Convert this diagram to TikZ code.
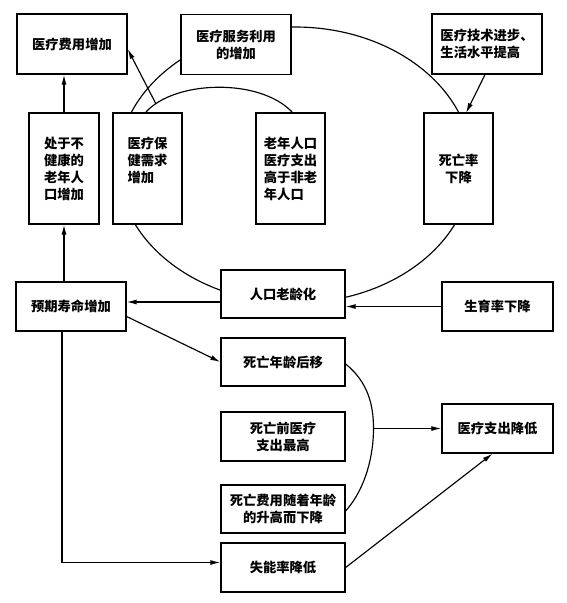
\documentclass[tikz,border=0pt]{standalone}
\usepackage{fontspec}
\newfontfamily\cjk{Noto Sans CJK SC}
\usetikzlibrary{arrows.meta,calc}
\tikzset{
  box/.style={draw, line width=1.3pt, fill=white, inner sep=0pt, align=center,
    font=\cjk\bfseries\fontsize{13.3}{17}\selectfont},
  wbox/.style={box, minimum width=110pt, minimum height=60pt},
  tbox/.style={box, minimum width=69pt, minimum height=111pt},
  mbox/.style={box, minimum width=124pt, minimum height=48pt},
  sbox/.style={box, minimum width=110pt, minimum height=49pt},
  conn/.style={line width=1.15pt},
  arr/.style={conn, -{Latex[length=10pt,width=5pt]}}
}
\begin{document}
\begin{tikzpicture}[x=1pt,y=-1pt]
\useasboundingbox (0,0) rectangle (566,603);
% outer ellipse
\draw[conn] (295,165) ellipse [x radius=177pt, y radius=138pt];
% inner arc
\draw[conn] (146,112) .. controls (175,80) and (260,78) .. (292,112);
% nodes
\node[wbox] (fee) at (72,44) {医疗费用增加};
\node[wbox] (serv) at (236,44.5) {医疗服务利用\\的增加};
\node[wbox, align=left] (tech) at (487,44) {医疗技术进步、\\生活水平提高};
\node[tbox, minimum width=70pt] (unh) at (64,168.5) {处于不\\健康的\\老年人\\口增加};
\node[tbox, align=left] (need) at (147.5,168.5) {医疗保\\健需求\\增加\\\mbox{}};
\node[tbox, align=left] (old) at (290.5,168.5) {老年人口\\医疗支出\\高于非老\\年人口};
\node[tbox] (mort) at (458.5,168.5) {死亡率\\下降};
\node[mbox] (aging) at (283,294) {人口老龄化};
\node[sbox] (life) at (71,306.5) {预期寿命增加};
\node[sbox, minimum width=111pt] (birth) at (497.5,306.5) {生育率下降};
\node[mbox] (dage) at (283,362) {死亡年龄后移};
\node[mbox, minimum height=49pt] (pre) at (283,436.5) {死亡前医疗\\支出最高};
\node[mbox] (cost) at (283,509) {死亡费用随着年龄\\的升高而下降};
\node[mbox, minimum height=49pt] (dis) at (283,567.5) {失能率降低};
\node[sbox, minimum width=111pt] (low) at (497.5,428.5) {医疗支出降低};
% helper coordinates
\coordinate (needtop) at (156,104);
\coordinate (mortin) at (466,113);
\coordinate (jn) at (373.5,428.5);
% connectors
\draw[arr] (unh.north) -- (fee.south -| unh.north);
\draw[arr] (life.north -| unh.south) -- (unh.south);
\draw[arr] (needtop) -- ([yshift=-5pt]fee.east);
\draw[arr] ([xshift=-2pt]tech.south) -- (mortin);
\draw[arr] ([yshift=-8pt]aging.west) -- ([yshift=-8pt]aging.west -| life.east);
\draw[arr] (birth.west) -- (birth.west -| aging.east);
\draw[arr] ([yshift=-10pt]life.east) -- (dage.west);
\draw[arr] ([xshift=-9pt]life.south) |- ([yshift=5pt]dis.west);
\draw[conn] ([yshift=-2pt]dage.east) .. controls (368,382) and (373.5,405) .. (jn)
   .. controls (373.5,455) and (366,488) .. ([yshift=-2pt]cost.east);
\draw[arr] (jn) -- (low.west);
\draw[arr] (dis.east) -- ([xshift=-5pt]low.south);
\end{tikzpicture}
\end{document}
